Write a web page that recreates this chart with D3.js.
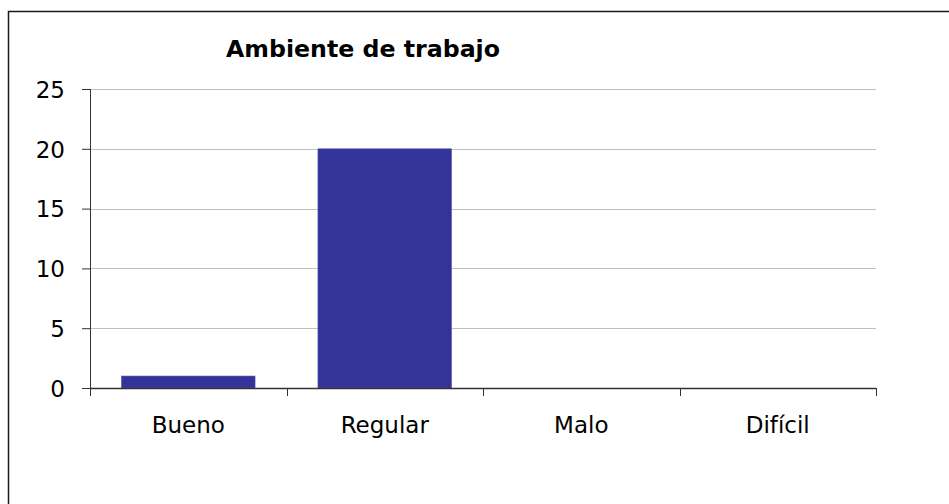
<!DOCTYPE html>
<html>
<head>
<meta charset="utf-8">
<script src="https://cdn.jsdelivr.net/npm/d3@7"></script>
<style>
  body { margin: 0; background: #fff; }
  text { font-family: "DejaVu Sans", Verdana, sans-serif; fill: #000; }
</style>
</head>
<body>
<div id="chart"></div>
<script>
// Chart data
var categories = ["Bueno", "Regular", "Malo", "Difícil"];
var values = [1, 20, 0, 0];
var yTicks = [0, 5, 10, 15, 20, 25];
var chartTitle = "Ambiente de trabajo";

var svgWidth = 949;
var svgHeight = 504;

var margin = { top: 89, right: 73, bottom: 116, left: 90 };
var width = 876 - margin.left;
var height = 388 - margin.top;

var svg = d3.select("#chart")
  .append("svg")
  .attr("width", svgWidth)
  .attr("height", svgHeight);

// outer frame (only top + left visible in the picture)
svg.append("rect")
  .attr("x", 8.5)
  .attr("y", 11.5)
  .attr("width", 1000)
  .attr("height", 1000)
  .attr("fill", "none")
  .attr("stroke", "#1a1a1a")
  .attr("stroke-width", 1.5);

var chartGroup = svg.append("g")
  .attr("transform", `translate(${margin.left}, ${margin.top})`);

// scales
var xScale = d3.scaleBand()
  .domain(categories)
  .range([0, width])
  .paddingInner(0.32)
  .paddingOuter(0.16);

var yScale = d3.scaleLinear()
  .domain([0, 25])
  .range([height, 0]);

// gridlines
chartGroup.append("g")
  .selectAll("line")
  .data(yTicks.filter(d => d > 0))
  .enter()
  .append("line")
  .attr("x1", 0)
  .attr("x2", width)
  .attr("y1", d => Math.round(yScale(d)) + 0.5)
  .attr("y2", d => Math.round(yScale(d)) + 0.5)
  .attr("stroke", "#c0c0c0")
  .attr("stroke-width", 1);

// bars
chartGroup.selectAll(".bar")
  .data(values)
  .enter()
  .append("rect")
  .attr("class", "bar")
  .attr("x", (d, i) => xScale(categories[i]))
  .attr("y", d => yScale(d))
  .attr("width", xScale.bandwidth())
  .attr("height", d => height - yScale(d))
  .attr("fill", "#333399")
  .attr("stroke", d => d > 0 ? "#5a5ab0" : "none")
  .attr("stroke-width", 0.6);

// y axis
var leftAxis = d3.axisLeft(yScale)
  .tickValues(yTicks)
  .tickSize(8)
  .tickPadding(17);

var yAxis = chartGroup.append("g")
  .call(leftAxis);

yAxis.select(".domain").attr("stroke", "#333").attr("d", `M0.5,0V${height}`);
yAxis.selectAll(".tick line").attr("stroke", "#333");
yAxis.selectAll(".tick text")
  .attr("font-size", 23)
  .attr("font-family", "DejaVu Sans, Verdana, sans-serif")
  .attr("dy", "0.36em")
  .attr("fill", "#000");

// x axis with category separators
var sepScale = d3.scaleLinear().domain([0, categories.length]).range([0, width]);

var xAxis = chartGroup.append("g")
  .attr("transform", `translate(0, ${height})`);

xAxis.append("line")
  .attr("x1", 0)
  .attr("x2", width)
  .attr("y1", 0.5)
  .attr("y2", 0.5)
  .attr("stroke", "#333")
  .attr("stroke-width", 1.3);

xAxis.selectAll(".sep")
  .data(d3.range(categories.length + 1))
  .enter()
  .append("line")
  .attr("class", "sep")
  .attr("x1", d => Math.round(sepScale(d)) + 0.5)
  .attr("x2", d => Math.round(sepScale(d)) + 0.5)
  .attr("y1", 0)
  .attr("y2", 8)
  .attr("stroke", "#333");

xAxis.selectAll(".xlabel")
  .data(categories)
  .enter()
  .append("text")
  .attr("class", "xlabel")
  .attr("x", d => xScale(d) + xScale.bandwidth() / 2)
  .attr("y", 45)
  .attr("text-anchor", "middle")
  .attr("font-size", 23)
  .text(d => d);

// title
svg.append("text")
  .attr("x", 363)
  .attr("y", 57)
  .attr("text-anchor", "middle")
  .attr("font-size", 23)
  .attr("font-weight", "bold")
  .attr("textLength", 274)
  .attr("lengthAdjust", "spacingAndGlyphs")
  .text(chartTitle);
</script>
</body>
</html>
